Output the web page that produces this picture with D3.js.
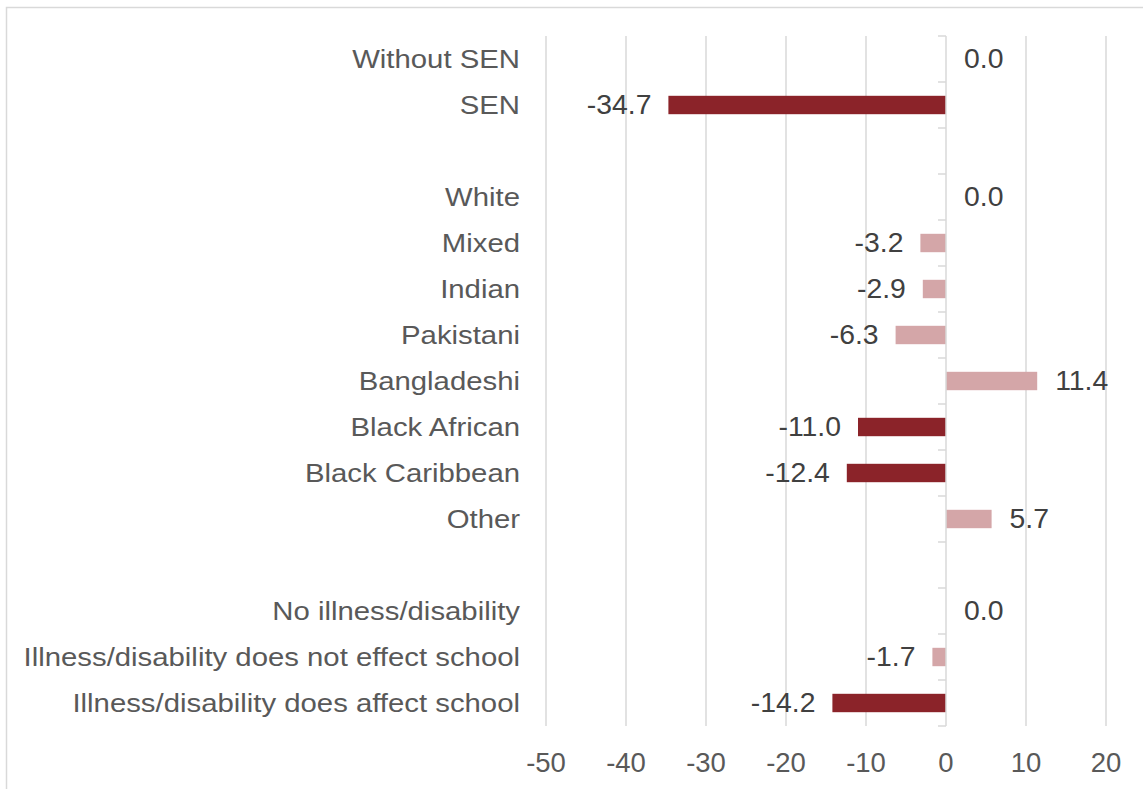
<!DOCTYPE html>
<html>
<head>
<meta charset="utf-8">
<script src="https://cdn.jsdelivr.net/npm/d3@7"></script>
<style>
  html, body { margin: 0; padding: 0; background: #fff; }
  svg { display: block; font-family: "Liberation Sans", Arial, sans-serif; }
</style>
</head>
<body>
<svg id="chart" width="1143" height="789"></svg>
<script>
// Row labels, top to bottom; blank strings are spacer rows between groups
const categories = [
  "Without SEN", "SEN", "",
  "White", "Mixed", "Indian", "Pakistani", "Bangladeshi",
  "Black African", "Black Caribbean", "Other", " ",
  "No illness/disability",
  "Illness/disability does not effect school",
  "Illness/disability does affect school"
];
// Difference from the reference group (null = spacer row)
const values = [
  0.0, -34.7, null,
  0.0, -3.2, -2.9, -6.3, 11.4, -11.0, -12.4, 5.7, null,
  0.0, -1.7, -14.2
];
// Whether the difference is statistically significant
const significant = [
  false, true, null,
  false, false, false, false, false, true, true, false, null,
  false, false, true
];
const xTicks = [-50, -40, -30, -20, -10, 0, 10, 20];

const svg = d3.select("#chart");
const W = 1143, H = 789;
const margin = { top: 36, left: 546, right: 37, bottom: 63 };
const plotBottom = H - margin.bottom;

const x = d3.scaleLinear().domain([-50, 20]).range([margin.left, W - margin.right]);
const y = d3.scaleBand()
  .domain(categories.map((c, i) => i))
  .range([margin.top, plotBottom])
  .paddingInner(0.6)
  .paddingOuter(0.3);

const rows = categories.map((c, i) => ({ i, label: c, value: values[i], sig: significant[i] }));
const grey = "#595959";
const lineGrey = "#d9d9d9";

// Outer chart frame
svg.append("rect")
  .attr("x", 6.5).attr("y", 7.5)
  .attr("width", W + 10).attr("height", H + 10)
  .attr("fill", "none").attr("stroke", lineGrey).attr("stroke-width", 1.5);

// Vertical gridlines
svg.append("g")
  .selectAll("line")
  .data(xTicks.filter(t => t !== 0))
  .join("line")
  .attr("x1", d => x(d)).attr("x2", d => x(d))
  .attr("y1", margin.top).attr("y2", plotBottom)
  .attr("stroke", lineGrey).attr("stroke-width", 1.5);

// Bars
svg.append("g")
  .selectAll("rect")
  .data(rows.filter(r => r.value !== null && r.value !== 0))
  .join("rect")
  .attr("x", d => x(Math.min(0, d.value)))
  .attr("width", d => Math.abs(x(d.value) - x(0)))
  .attr("y", d => y(d.i))
  .attr("height", y.bandwidth())
  .attr("fill", d => d.sig ? "#8b2329" : "#d4a6a8");

// Category axis at zero, with ticks between rows
const bounds = d3.range(categories.length + 1).map(k =>
  margin.top + (plotBottom - margin.top) * k / categories.length);
const axisG = svg.append("g");
axisG.append("line")
  .attr("x1", x(0)).attr("x2", x(0))
  .attr("y1", margin.top).attr("y2", plotBottom)
  .attr("stroke", lineGrey).attr("stroke-width", 1.5);
axisG.selectAll("line.tick")
  .data(bounds)
  .join("line")
  .attr("class", "tick")
  .attr("x1", x(0) - 8).attr("x2", x(0))
  .attr("y1", d => d).attr("y2", d => d)
  .attr("stroke", lineGrey).attr("stroke-width", 1.5);

// Category labels (slightly wide-set type)
svg.append("g")
  .selectAll("text")
  .data(rows.filter(r => r.label.trim() !== ""))
  .join("text")
  .attr("transform", d => `translate(520,${y(d.i) + y.bandwidth() / 2}) scale(1.15,1)`)
  .attr("dy", "0.35em")
  .attr("text-anchor", "end")
  .attr("font-size", 25.5)
  .attr("fill", grey)
  .text(d => d.label);

// Value labels
svg.append("g")
  .selectAll("text")
  .data(rows.filter(r => r.value !== null))
  .join("text")
  .attr("transform", d => {
    const tx = d.value < 0 ? x(d.value) - 17 : x(d.value) + 18;
    return `translate(${tx},${y(d.i) + y.bandwidth() / 2}) scale(1.05,1)`;
  })
  .attr("dy", "0.35em")
  .attr("text-anchor", d => d.value < 0 ? "end" : "start")
  .attr("font-size", 27)
  .attr("fill", "#404040")
  .text(d => d3.format(".1f")(d.value).replace("−", "-"));

// X axis tick labels
svg.append("g")
  .selectAll("text")
  .data(xTicks)
  .join("text")
  .attr("x", d => x(d))
  .attr("y", 772)
  .attr("text-anchor", "middle")
  .attr("font-size", 27.5)
  .attr("fill", grey)
  .text(d => String(d));
</script>
</body>
</html>
